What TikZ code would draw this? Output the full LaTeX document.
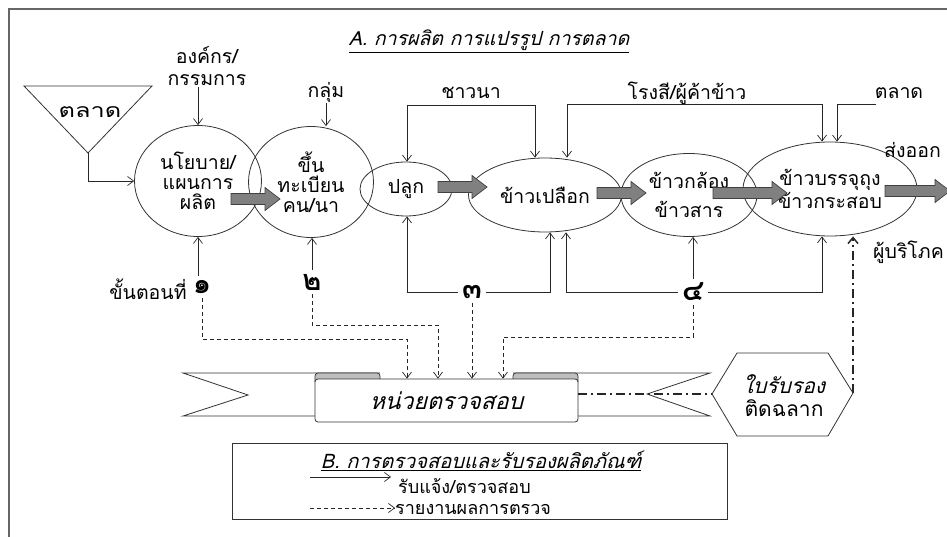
\documentclass[tikz,border=0pt]{standalone}
\usepackage{graphicx}
\usepackage{fontspec}
\setmainfont[Script=Thai]{Loma}
\newfontfamily\thit[Script=Thai,FakeSlant=0.25]{Loma}
\usetikzlibrary{arrows.meta,shapes.geometric}
\newcommand\grarrow[4]{\draw[garr] (#2,#4-5.5) -- (#3-15,#4-5.5) -- (#3-15,#4-11.5) -- (#3,#4) -- (#3-15,#4+11.5) -- (#3-15,#4+5.5) -- (#2,#4+5.5) -- cycle;
  \coordinate (#1) at (#3,#4);}
\begin{document}
\begin{tikzpicture}[x=1pt,y=-1pt,
  every node/.style={font=\fontsize{19.5}{20}\selectfont},
  ell/.style={draw=black!80, ellipse, inner sep=0pt, align=center, line width=0.8pt},
  arr/.style={-{Straight Barb[length=6pt,width=9pt]}, line width=0.7pt, black!85},
  darr/.style={arr, dash pattern=on 4pt off 3pt},
  dd/.style={line width=1.8pt, black!85, dash pattern=on 9pt off 4pt on 2pt off 4pt},
  garr/.style={draw=black!75, fill=black!50, line width=0.7pt},
  txt/.style={inner sep=1pt, align=center},
  legtxt/.style={inner sep=0pt, anchor=west, font=\fontsize{18}{18}\selectfont},
  num/.style={font=\fontsize{29}{29}\selectfont\bfseries, inner sep=4pt},
  ribbon/.style={draw=black!80, fill=white, line width=0.8pt}
]
\useasboundingbox (0,0) rectangle (947,537);
% frame
\draw[line width=2pt, black!60] (9,537) -- (9,9) -- (947,9);

% title A
\node[txt, font=\fontsize{19.5}{20}\selectfont] (tA) at (489,41) {\thit\underline{A. การผลิต การแปรรูป การตลาด}};

% market triangle
\draw[draw=black!80, line width=0.8pt] (24,86) -- (152,86) -- (88,153) -- cycle;
\node[txt] (mk) at (90,112) {\scalebox{1.3}[1]{ตลาด}};
\coordinate (tb) at (88,153);

% ellipses
\node[ell, minimum width=127pt, minimum height=111pt] (n1) at (198,181) {นโยบาย/\\แผนการ\\ผลิต};
\node[ell, minimum width=125pt, minimum height=111pt] (n2) at (311,182) {ขึ้น\\ทะเบียน\\คน/นา};
\node[ell, minimum width=92pt, minimum height=54pt] (n3) at (406,189) {ปลูก};
\node[ell, minimum width=153pt, minimum height=74pt] (n4) at (545,195) {ข้าวเปลือก};
\node[ell, minimum width=136pt, minimum height=83pt] (n5) at (689,195) {ข้าวกล้อง\\[9pt]ข้าวสาร};
\node[ell, minimum width=174pt, minimum height=94pt] (n6) at (830,189) {ข้าวบรรจุถุง\\ข้าวกระสอบ};

% market -> policy
\draw[arr] (tb) |- (n1.west);

% gray block arrows
\grarrow{ga1}{231}{280}{199}
\grarrow{ga2}{438}{487}{187}
\grarrow{ga3}{597}{646}{193}
\grarrow{ga4}{713}{787}{193}
\grarrow{ga5}{885}{950}{191}

% top labels
\node[txt] (org) at (207,66) {องค์กร/\\[2pt]กรรมการ};
\draw[arr] (org.south -| n1.north) -- (n1.north);
\node[txt] (grp) at (326,92) {กลุ่ม};
\draw[arr] (grp.south) -- (grp.south |- n2.north);

\node[txt] (far) at (471,93) {ชาวนา};
\coordinate (a1) at (407,105);
\coordinate (a2) at (535,105);
\draw[arr] (a1) -- (a1 |- n3.north);
\draw[arr] (a1) -- (a2) -- (a2 |- n4.north);

\node[txt] (mill) at (687,93) {โรงสี/ผู้ค้าข้าว};
\coordinate (b1) at (567,104);
\coordinate (b2) at (822,104);
\draw[arr] (b1) -- (b1 |- n4.north);
\draw[arr] (b1) -- (b2) -- (b2 |- n6.north);

\node[txt] (mk2) at (899,93) {ตลาด};
\coordinate (c1) at (876,104);
\coordinate (c2) at (837,104);
\draw[arr] (c1) -- (c2) -- (c2 |- n6.north);

\node[txt, anchor=west] (exp) at (883,150) {ส่งออก};
\node[txt, anchor=west] (cons) at (872,252) {ผู้บริโภค};

% steps
\node[txt] (st) at (148,289) {ขั้นตอนที่};
\node[num] (s1) at (202,287) {๑};
\node[num] (s2) at (312,282) {๒};
\node[num] (s3) at (472,292) {๓};
\node[num] (s4) at (693,292) {๔};

\draw[arr] (s1.north -| n1.south) -- (n1.south);
\draw[arr] (s2.north) -- (s2.north |- n2.south);

\coordinate (d1) at (407,292);
\coordinate (d2) at (550,292);
\coordinate (d3) at (566,292);
\coordinate (d4) at (822,292);
\draw[arr] (s3.west) -- (d1) -- (d1 |- n3.south);
\draw[arr] (s3.east) -- (d2) -- (d2 |- n4.south);
\draw[arr] (s4.west) -- (d3) -- (d3 |- n4.south);
\draw[arr] (s4.east) -- (d4) -- (d4 |- n6.south);
\draw[arr] (s4.north) -- (s4.north |- n5.south);

% ribbon
\draw[ribbon] (380,373) -- (183,373) -- (248,395) -- (183,416) -- (330,416);
\draw[ribbon] (513,373) -- (710,373) -- (647,394) -- (710,416) -- (560,416);
\draw[draw=black!80, fill=black!25, line width=0.7pt, rounded corners=3pt] (315,382) -- (315,373) -- (380,373) -- (380,382);
\draw[draw=black!80, fill=black!25, line width=0.7pt, rounded corners=3pt] (513,382) -- (513,373) -- (578,373) -- (578,382);
\node[draw=black!80, fill=white, line width=0.8pt, rounded corners=3pt, minimum width=263pt, minimum height=43pt, inner sep=0pt]
  (band) at (446.5,400.5) {\fontsize{23}{23}\selectfont\thit หน่วยตรวจสอบ};

% dashed reports
\coordinate (h1) at (407,339);
\coordinate (h2) at (438,325);
\coordinate (h4) at (503,337);
\draw[darr] (s1.south) |- (h1) -- (h1 |- band.north);
\draw[darr] (s2.south) |- (h2) -- (h2 |- band.north);
\draw[darr] (s3.south) -- (s3.south |- band.north);
\draw[darr] (s4.south) |- (h4) -- (h4 |- band.north);

% certificate hexagon
\coordinate (hexL) at (712,394);
\coordinate (hexR) at (853,393);
\draw[draw=black!80, fill=white, line width=0.8pt] (hexL) -- (737,353) -- (828,353) -- (hexR) -- (828,436) -- (737,436) -- cycle;
\node[txt, font=\fontsize{21}{21}\selectfont] (cert) at (784,396) {\thit ใบรับรอง\\[2pt]ติดฉลาก};
\draw[dd] (hexL -| band.east) -- (hexL);
\draw[dd, -{Straight Barb[length=6pt,width=10pt,line width=1.5pt]}] (hexR) -- (hexR |- n6.south);

% legend
\node[draw=black!80, line width=0.8pt, minimum width=495pt, minimum height=76pt, inner sep=0pt] (leg) at (479.5,481) {};
\node[txt, font=\fontsize{20}{20}\selectfont] (tB) at (481,461) {\thit\underline{B. การตรวจสอบและรับรองผลิตภัณฑ์}};
\coordinate (la) at (310,477);
\coordinate (lb) at (310,508);
\node[legtxt] (lt1) at (398,486) {รับแจ้ง/ตรวจสอบ};
\node[legtxt] (lt2) at (395,509) {รายงานผลการตรวจ};
\draw[arr] (la) -- ++(81,0);
\draw[darr] (lb) -- (lb -| lt2.west);
\end{tikzpicture}
\end{document}
